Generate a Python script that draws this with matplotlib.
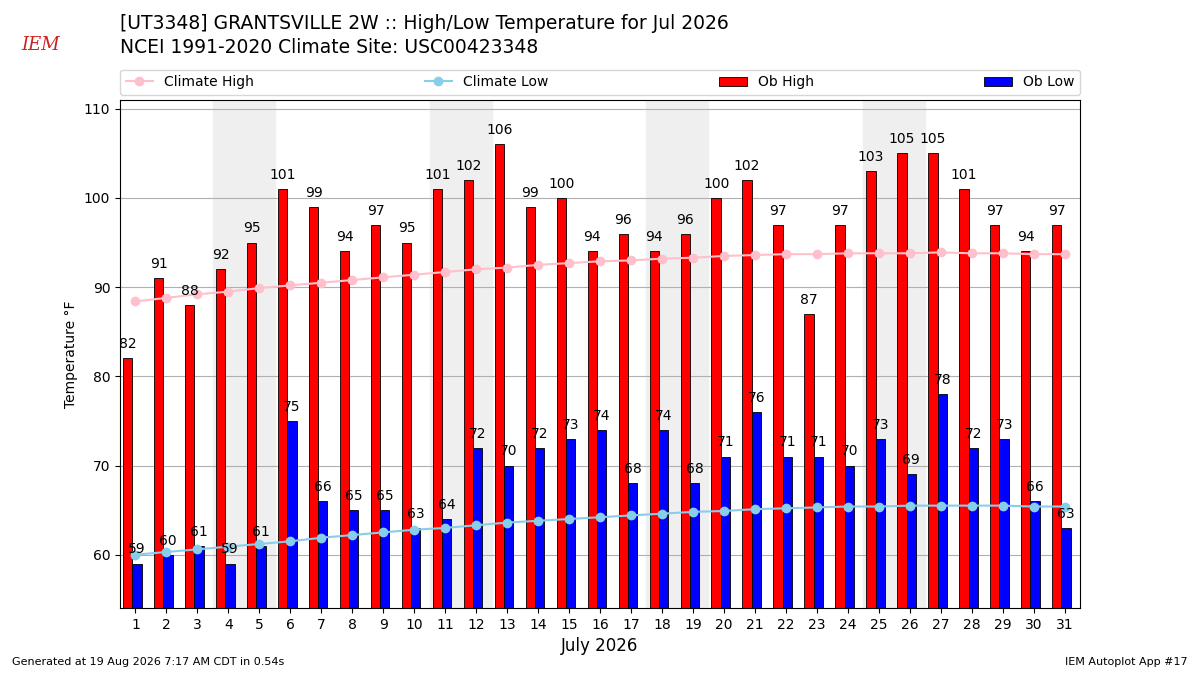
import matplotlib
matplotlib.use("Agg")
import matplotlib.pyplot as plt
import numpy as np

days = list(range(1, 32))
ob_high = [82,91,88,92,95,101,99,94,97,95,101,102,106,99,100,94,96,94,96,100,102,97,87,97,103,105,105,101,97,94,97]
ob_low = [59,60,61,59,61,75,66,65,65,63,64,72,70,72,73,74,68,74,68,71,76,71,71,70,73,69,78,72,73,66,63]
clim_high = [88.4,88.8,89.2,89.5,89.9,90.2,90.5,90.8,91.1,91.4,91.7,92.0,92.2,92.5,92.7,92.9,93.0,93.2,93.3,93.5,93.6,93.7,93.7,93.8,93.8,93.8,93.9,93.8,93.8,93.7,93.7]
clim_low = [60.0,60.3,60.6,60.9,61.2,61.5,61.9,62.2,62.5,62.8,63.0,63.3,63.6,63.8,64.0,64.2,64.4,64.6,64.8,64.9,65.1,65.2,65.3,65.4,65.4,65.5,65.5,65.5,65.5,65.4,65.4]
weekends = [4, 11, 18, 25]

fig = plt.figure(figsize=(12, 6.75), dpi=100)
ax = fig.add_axes([0.1, 0.099, 0.8, 0.753])
x = np.array(days)
w = 0.3
xh = x - 0.25
xl = x + 0.05
for s in weekends:
    ax.axvspan(s - 0.5, s + 1.5, color="#efefef", zorder=0)
ax.plot(x, clim_high, "-o", color="pink", markersize=6, label="Climate High", zorder=3)
ax.plot(x, clim_low, "-o", color="skyblue", markersize=6, label="Climate Low", zorder=3)
ax.bar(xh, ob_high, w, color="red", edgecolor="black", linewidth=0.6, label="Ob High", zorder=2)
ax.bar(xl, ob_low, w, color="blue", edgecolor="black", linewidth=0.6, label="Ob Low", zorder=2)
for a, b, h, l in zip(xh, xl, ob_high, ob_low):
    ax.text(a, h + 0.8, str(h), ha="center", va="bottom", fontsize=10, zorder=4)
    ax.text(b, l + 0.8, str(l), ha="center", va="bottom", fontsize=10, zorder=4)
ax.set_ylim(54, 111)
ax.set_xlim(0.5, 31.5)
ax.set_xticks(days)
ax.set_yticks([60, 70, 80, 90, 100, 110])
ax.grid(axis="y", color="#b0b0b0", linewidth=0.8, zorder=1)
ax.set_axisbelow(True)
ax.set_ylabel("Temperature °F")
ax.set_xlabel("July 2026", fontsize=12)
ax.tick_params(labelsize=10)
ax.legend(ncol=4, loc="lower left",
          bbox_to_anchor=(0, 1.01, 1, 0.05), mode="expand", fontsize=10, borderaxespad=0)

fig.text(0.1, 0.965, "[UT3348] GRANTSVILLE 2W :: High/Low Temperature for Jul 2026", fontsize=13.5, va="center")
fig.text(0.1, 0.93, "NCEI 1991-2020 Climate Site: USC00423348", fontsize=13.5, va="center")
fig.text(0.018, 0.933, "IEM", fontsize=13, color="#cc2222", style="italic", family="serif", va="center")
fig.text(0.01, 0.015, "Generated at 19 Aug 2026 7:17 AM CDT in 0.54s", fontsize=8)
fig.text(0.99, 0.015, "IEM Autoplot App #17", fontsize=8, ha="right")
fig.savefig("out.png", dpi=100)
